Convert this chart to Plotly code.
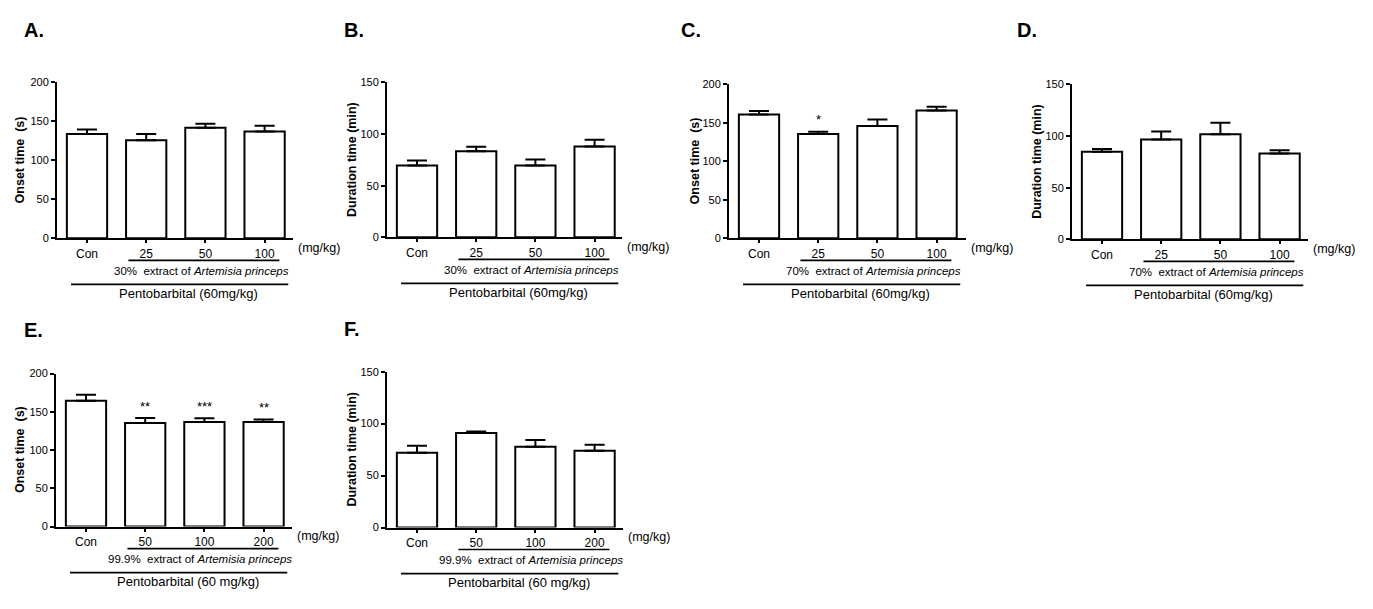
import plotly.graph_objects as go

# ---------------- data ----------------
cats_30 = ["Con", "25", "50", "100"]
cats_70 = ["Con", "25", "50", "100"]
cats_999 = ["Con", "50", "100", "200"]

A_onset = [134, 126, 142, 137]
A_err = [5.5, 8, 5, 7.5]
B_duration = [69.6, 83.3, 69.6, 88]
B_err = [4.8, 4.4, 5.7, 6.4]
C_onset = [161, 135.5, 146, 166]
C_err = [4.6, 3, 8.4, 5]
D_duration = [84.7, 96.7, 101.8, 83.1]
D_err = [2.8, 7.6, 11, 3.2]
E_onset = [164.5, 135.3, 136.6, 136.6]
E_err = [8, 6.5, 5, 3.4]
F_duration = [72, 90.9, 77.7, 73.9]
F_err = [6.6, 1.6, 6.6, 5.7]

C_sig = ["", "*", "", ""]
E_sig = ["", "**", "***", "**"]

W, H = 1373, 609
FONT = "Liberation Sans, Arial, sans-serif"

def px(x):
    return x / W

def py(y):
    return 1 - y / H

panels = [
    dict(letter="A.", cats=cats_30, vals=A_onset, err=A_err, sig=None, ymax=200,
         ytitle="Onset time  (s)", ext="30%  extract of <i>Artemisia princeps</i>",
         pento="Pentobarbital (60mg/kg)", box=(57, 293, 78, 237), lx=22, ly=24, tx=20),
    dict(letter="B.", cats=cats_30, vals=B_duration, err=B_err, sig=None, ymax=150,
         ytitle="Duration time (min)", ext="30%  extract of <i>Artemisia princeps</i>",
         pento="Pentobarbital (60mg/kg)", box=(387, 622, 78, 236), lx=342, ly=24, tx=352),
    dict(letter="C.", cats=cats_70, vals=C_onset, err=C_err, sig=C_sig, ymax=200,
         ytitle="Onset time  (s)", ext="70%  extract of <i>Artemisia princeps</i>",
         pento="Pentobarbital (60mg/kg)", box=(729, 966, 80, 237), lx=679, ly=24, tx=695),
    dict(letter="D.", cats=cats_70, vals=D_duration, err=D_err, sig=None, ymax=150,
         ytitle="Duration time (min)", ext="70%  extract of <i>Artemisia princeps</i>",
         pento="Pentobarbital (60mg/kg)", box=(1072, 1308, 80, 238), lx=1015, ly=24, tx=1037),
    dict(letter="E.", cats=cats_999, vals=E_onset, err=E_err, sig=E_sig, ymax=200,
         ytitle="Onset time  (s)", ext="99.9%  extract of <i>Artemisia princeps</i>",
         pento="Pentobarbital (60 mg/kg)", box=(56, 292, 375, 531), lx=22, ly=331, tx=20),
    dict(letter="F.", cats=cats_999, vals=F_duration, err=F_err, sig=None, ymax=150,
         ytitle="Duration time (min)", ext="99.9%  extract of <i>Artemisia princeps</i>",
         pento="Pentobarbital (60 mg/kg)", box=(387, 623, 373, 532), lx=342, ly=330, tx=352),
]

UNIT = 59.2  # px per category

fig = go.Figure()
annotations = []
shapes = []

for i, p in enumerate(panels):
    n = i + 1
    xa = "x" if n == 1 else f"x{n}"
    ya = "y" if n == 1 else f"y{n}"
    x0, x1, y0, y1 = p["box"]
    r0 = -30 / UNIT
    r1 = r0 + (x1 - x0) / UNIT
    pos = list(range(len(p["cats"])))

    fig.add_trace(go.Bar(
        x=pos, y=p["vals"], xaxis=xa, yaxis=ya, width=0.68,
        marker=dict(color="white", line=dict(color="black", width=2)),
        error_y=dict(type="data", symmetric=False, array=p["err"],
                     arrayminus=[0] * len(p["err"]), color="black",
                     thickness=2, width=10),
        showlegend=False, hoverinfo="skip",
    ))

    fig.layout[f"xaxis{n if n > 1 else ''}"] = dict(
        domain=[px(x0), px(x1)], anchor=ya, range=[r0, r1],
        tickvals=pos, ticktext=p["cats"], ticks="outside", ticklen=3,
        tickwidth=1.5, tickcolor="black", showline=True, linecolor="black",
        linewidth=2, showgrid=False, zeroline=False,
        tickfont=dict(family=FONT, size=12, color="black"),
    )
    fig.layout[f"yaxis{n if n > 1 else ''}"] = dict(
        domain=[py(y1), py(y0)], anchor=xa, range=[0, p["ymax"]],
        tickmode="linear", tick0=0, dtick=50, ticks="outside", ticklen=4,
        tickwidth=1.5, tickcolor="black", showline=True, linecolor="black",
        linewidth=2, showgrid=False, zeroline=False,
        tickfont=dict(family=FONT, size=11, color="black"),
    )

    # panel letter
    annotations.append(dict(text="<b>" + p["letter"] + "</b>", x=px(p["lx"]), y=py(p["ly"]),
                            xref="paper", yref="paper", xanchor="left", yanchor="middle",
                            showarrow=False, font=dict(family=FONT, size=20, color="black")))
    # y title
    annotations.append(dict(text="<b>" + p["ytitle"] + "</b>", x=px(p["tx"]),
                            y=py((y0 + y1) / 2), xref="paper", yref="paper",
                            textangle=-90, xanchor="center", yanchor="middle",
                            showarrow=False, font=dict(family=FONT, size=12.5, color="black")))
    # (mg/kg)
    annotations.append(dict(text="(mg/kg)", x=px(x1 + 3), y=py(y1 + 10),
                            xref="paper", yref="paper", xanchor="left", yanchor="middle",
                            showarrow=False, font=dict(family=FONT, size=12.5, color="black")))
    # group lines
    shapes.append(dict(type="line", xref=xa, yref="paper", x0=0.7, x1=3.25,
                       y0=py(y1 + 22.5), y1=py(y1 + 22.5),
                       line=dict(color="black", width=1.6)))
    shapes.append(dict(type="line", xref=xa, yref="paper", x0=-0.27, x1=3.4,
                       y0=py(y1 + 47), y1=py(y1 + 47),
                       line=dict(color="black", width=1.6)))
    annotations.append(dict(text=p["ext"], x=1.93, xref=xa, y=py(y1 + 33), yref="paper",
                            xanchor="center", yanchor="middle", showarrow=False,
                            font=dict(family=FONT, size=11.5, color="black")))
    annotations.append(dict(text=p["pento"], x=1.72, xref=xa, y=py(y1 + 56), yref="paper",
                            xanchor="center", yanchor="middle", showarrow=False,
                            font=dict(family=FONT, size=13, color="black")))
    # significance marks
    if p["sig"]:
        for j, s in enumerate(p["sig"]):
            if s:
                annotations.append(dict(text=s, x=j, xref=xa,
                                        y=p["vals"][j] + p["err"][j] + 3, yref=ya,
                                        xanchor="center", yanchor="bottom", showarrow=False,
                                        font=dict(family=FONT, size=13, color="black")))

fig.update_layout(
    width=W, height=H, margin=dict(l=0, r=0, t=0, b=0),
    paper_bgcolor="white", plot_bgcolor="white",
    annotations=annotations, shapes=shapes, bargap=0.3,
)

fig.write_html("out.html", config={"displayModeBar": False},
               post_script="document.body.style.margin='0';document.body.style.padding='0';")
